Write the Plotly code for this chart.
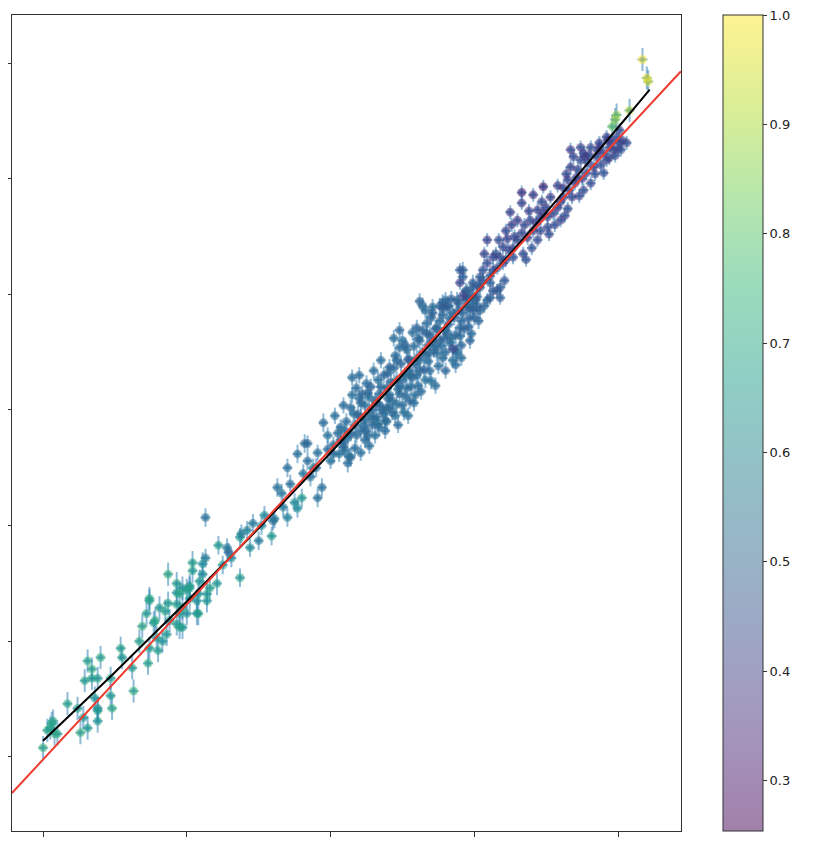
import numpy as np
import plotly.graph_objects as go
import plotly.colors as pc

# ---------------- data ----------------
# low-x group (teal/green points)
x_low = [0.00,0.03,0.06,0.08,0.07,0.17,0.24,0.26,0.28,0.31,0.31,0.34,0.29,0.38,0.36,0.38,0.38,0.40,0.48,0.47,
         0.47,0.54,0.55,0.62,0.63,0.67,0.69,0.73,0.74,0.72,0.74,0.77,0.79,0.80,0.83,0.86,0.85,0.87,0.88,0.93,
         0.95,0.93,0.97,1.00,0.87,1.02,1.07,1.08,1.02,1.09,1.11,1.04,1.11,1.14,0.93,0.97,
         1.02,1.16,0.95,1.04,
         1.21,1.08,1.14,1.00,0.93,0.95,1.07,0.97,0.81,0.78,0.74,0.34,0.38,0.05,0.10]
y_low = [0.08,0.23,0.29,0.20,0.31,0.46,0.42,0.21,0.34,0.25,0.83,0.76,0.66,0.68,0.51,0.42,0.31,0.86,0.42,0.53,
         0.68,0.94,0.86,0.77,0.57,1.00,1.13,0.81,0.94,1.24,1.37,1.16,1.03,0.92,1.00,1.06,1.26,1.33,1.18,1.15,
         1.12,1.42,1.29,1.24,1.58,1.37,1.35,1.24,1.48,1.52,1.58,1.68,1.67,1.41,1.50,1.46,
         1.46,1.46,1.41,1.61,
         1.50,1.41,1.35,1.44,1.32,1.24,1.24,1.12,1.29,1.18,1.35,0.68,0.40,0.25,0.20]
c_low = [0.76,0.74,0.72,0.76,0.72,0.74,0.70,0.76,0.68,0.70,0.74,0.76,0.72,0.70,0.68,0.64,0.68,0.74,0.76,0.70,
         0.72,0.74,0.70,0.72,0.76,0.74,0.76,0.74,0.70,0.72,0.74,0.68,0.70,0.72,0.68,0.70,0.74,0.72,0.68,0.70,
         0.72,0.68,0.70,0.66,0.76,0.70,0.66,0.72,0.66,0.70,0.64,0.74,0.66,0.70,0.72,0.66,
         0.70,0.72,0.74,0.72,
         0.70,0.66,0.70,0.70,0.72,0.70,0.66,0.68,0.70,0.74,0.70,0.70,0.68,0.70,0.72]
err_low = 0.10

# transition group
x_mid = [1.13,1.13,1.22,1.29,1.28,1.31,1.37,1.37,1.46,1.44,1.50,1.54,1.59,1.61,1.63,1.67,1.70,1.70,1.77,1.80,
         1.77,1.82,1.81,1.86,1.91,1.94,1.95,1.88,1.75,1.38,1.60,2.02,2.12,2.14,2.09,2.25,2.34,
         1.25,1.42,1.52,1.66,1.72,1.84,1.90,1.98]
y_mid = [2.07,1.72,1.83,1.77,1.81,1.72,1.90,1.55,2.02,1.81,1.87,2.09,1.91,2.06,2.33,2.16,2.07,2.50,2.15,2.24,
         2.62,2.71,2.45,2.42,2.24,2.33,2.89,2.50,2.20,1.93,2.04,2.62,2.54,2.59,2.68,2.82,2.85,
         1.66,1.96,2.00,2.28,2.36,2.56,2.50,2.66]
c_mid = [0.52,0.58,0.70,0.48,0.56,0.64,0.68,0.72,0.56,0.64,0.56,0.64,0.70,0.58,0.52,0.56,0.60,0.52,0.64,0.70,
         0.52,0.50,0.54,0.52,0.52,0.52,0.50,0.56,0.64,0.56,0.52,0.50,0.50,0.50,0.50,0.50,0.50,
         0.68,0.60,0.62,0.54,0.52,0.50,0.52,0.50]
err_mid = 0.08

# dense central group (blue points)
x_core = [1.84,1.91,2.09,2.14,2.07,2.15,2.16,2.21,2.22,2.18,2.25,2.27,2.32,2.34,2.29,2.37,2.39,
          2.39,2.41,2.46,2.48,2.50,2.53,2.55,2.60,2.62,2.46,2.48,2.53,2.57,2.62,2.64,2.64,2.67,2.71,2.71,
          2.76,2.80,2.76,2.81,2.83,2.85,2.88,2.90,2.85,2.88,2.94,2.92,2.95,2.98,2.91,2.99,
          2.14,2.21,2.32,2.41,2.55,2.74,2.78,2.60,2.69,2.78,2.66,2.71,2.81,3.02,
          2.07,2.10,2.17,2.24,2.29,2.38,2.45,2.43,2.50,2.55,2.59,2.52,2.66,2.69,2.59,2.66,2.73,2.76,2.80,2.87,
          2.91,2.96,3.01,2.83,2.74,2.68,2.61,2.54,2.47,2.38,2.31,2.24,2.17,2.10,2.00,2.21,2.27,2.34,2.41,2.48,
          2.55,2.62,2.69,2.78,2.82,2.89,2.94,2.98,3.03,2.40,2.33,2.26,2.45,2.52,2.57,2.48,2.35,2.30,2.15,2.09,
          2.03,1.98,2.21,2.27,2.73,2.80,2.87,2.91,2.97,3.03,
          2.02,2.05,2.06,2.11,2.12,2.13,2.18,2.19,2.20,2.23,2.24,2.26,2.28,2.30,2.31,2.33,2.35,2.36,2.37,2.39,
          2.40,2.42,2.43,2.44,2.46,2.47,2.49,2.50,2.51,2.52,2.54,2.56,2.58,2.58,2.60,2.61,2.63,2.64,2.65,2.67,
          2.68,2.70,2.70,2.72,2.73,2.75,2.77,2.78,2.79,2.80,2.82,2.84,2.84,2.86,2.87,2.89,2.90,2.92,2.93,2.95,
          2.96,2.97,2.99,3.00,3.02,3.04,2.62,2.44,2.20]
y_core = [2.71,2.63,2.72,2.80,2.85,3.28,2.97,3.06,3.14,3.19,3.23,3.11,3.06,3.14,3.00,2.97,3.02,
          3.19,3.37,3.43,3.54,3.60,3.52,3.43,3.45,3.34,3.26,3.14,3.19,3.28,3.60,3.90,3.69,3.75,3.60,3.84,
          3.77,3.95,3.90,3.66,3.58,3.43,3.49,3.71,3.84,3.95,4.03,4.21,3.89,3.66,3.45,3.86,
          3.02,2.94,2.94,3.02,3.34,3.49,3.45,3.71,3.49,3.93,3.86,3.89,3.89,3.89,
          2.74,2.82,2.87,2.91,2.87,2.91,2.95,3.08,3.04,3.08,3.13,3.30,3.26,3.34,3.39,3.47,3.56,3.60,3.69,3.65,
          3.77,3.79,3.95,3.79,3.71,3.56,3.21,2.95,2.87,2.82,2.78,2.74,2.67,2.65,2.56,2.82,2.95,3.04,3.13,3.21,
          3.30,3.43,3.65,3.82,3.90,3.86,3.95,3.99,4.08,3.32,3.26,3.15,3.47,3.56,3.67,3.69,3.43,3.34,3.13,3.04,
          2.95,2.78,2.63,2.69,3.21,3.34,3.39,3.56,3.60,3.77,
          2.70,2.80,2.62,2.90,2.76,2.60,2.78,2.96,3.10,2.86,3.04,2.78,3.20,2.92,3.08,2.88,3.20,3.00,3.30,2.90,
          3.10,3.24,2.98,3.36,3.05,3.18,3.40,3.26,2.98,3.12,3.44,3.20,3.55,3.06,3.30,3.62,3.16,3.50,3.35,3.66,
          3.42,3.25,3.80,3.52,3.70,3.38,3.55,3.88,3.62,3.50,3.74,3.96,3.62,3.80,3.52,3.92,3.64,3.84,3.70,3.98,
          3.72,3.88,4.10,3.80,3.98,3.86,3.94,3.62,3.30]
c_core = [0.50,0.52,0.50,0.48,0.50,0.50,0.52,0.50,0.48,0.50,0.50,0.52,0.50,0.50,0.48,0.50,0.50,
          0.50,0.48,0.50,0.50,0.52,0.50,0.48,0.50,0.50,0.52,0.50,0.50,0.48,0.50,0.50,0.48,0.50,0.50,0.48,
          0.50,0.50,0.48,0.50,0.50,0.52,0.50,0.48,0.50,0.48,0.47,0.46,0.48,0.50,0.50,0.48,
          0.50,0.52,0.50,0.50,0.48,0.50,0.50,0.48,0.50,0.48,0.50,0.50,0.48,0.47,
          0.50,0.52,0.50,0.50,0.48,0.50,0.52,0.50,0.50,0.48,0.50,0.50,0.52,0.50,0.48,0.50,0.50,0.48,0.50,0.48,
          0.48,0.47,0.47,0.50,0.50,0.48,0.50,0.52,0.50,0.50,0.52,0.50,0.50,0.52,0.53,0.50,0.50,0.48,0.50,0.50,
          0.52,0.50,0.48,0.48,0.47,0.48,0.47,0.47,0.46,0.50,0.52,0.50,0.50,0.48,0.50,0.48,0.50,0.50,0.52,0.50,
          0.52,0.53,0.52,0.50,0.50,0.48,0.50,0.48,0.48,0.47,
          0.52,0.50,0.52,0.50,0.50,0.52,0.50,0.48,0.50,0.50,0.52,0.50,0.48,0.50,0.50,0.52,0.50,0.50,0.48,0.50,
          0.50,0.48,0.50,0.50,0.52,0.50,0.48,0.50,0.52,0.50,0.48,0.50,0.50,0.52,0.50,0.48,0.50,0.50,0.48,0.48,
          0.50,0.52,0.47,0.50,0.48,0.50,0.50,0.46,0.48,0.50,0.48,0.46,0.50,0.48,0.50,0.47,0.50,0.48,0.48,0.46,
          0.48,0.47,0.45,0.48,0.46,0.47,0.48,0.50,0.50]
err_core = 0.07

# upper group (purple points)
x_high = [2.90,2.92,2.85,3.09,3.07,3.13,3.09,3.06,2.99,3.13,3.33,3.33,3.41,3.25,3.30,3.39,3.44,3.47,3.48,3.51,
          3.51,3.41,3.33,3.30,3.23,3.20,3.27,3.37,3.44,3.18,3.27,3.34,3.20,3.13,3.04,2.92,2.90,2.95,3.04,3.11,
          3.16,3.18,3.09,2.99,3.60,3.58,3.62,3.58,3.65,3.67,3.69,3.67,3.74,3.77,3.71,3.78,3.83,3.85,3.81,3.87,
          3.92,3.93,3.99,4.01,4.03,3.97,3.90,3.76,3.68,3.65,3.63,3.53,3.48,3.46,4.01,3.92,3.87,3.81,3.94,3.76,
          3.74,4.06,4.02,3.06,3.11,3.16,3.07,3.11,3.18,3.21,
          3.22,3.26,3.28,3.35,3.38,3.40,3.43,3.46,3.50,3.52,3.55,3.56,3.60,3.62,3.64,3.66,3.70,3.72,3.73,3.75,
          3.79,3.80,3.84,3.86,3.88,3.90,3.94,3.96,3.98,4.00,3.15,3.17,3.22,3.24,3.36]
y_high = [4.10,3.99,3.53,4.47,4.35,4.32,4.27,4.21,4.06,4.03,4.88,4.79,4.86,4.71,4.64,4.64,4.73,4.80,4.70,4.67,
          4.58,4.55,4.53,4.47,4.48,4.41,4.40,4.49,4.47,4.32,4.32,4.35,4.27,4.21,4.15,4.15,4.21,4.03,4.06,4.10,
          4.03,3.97,3.95,3.92,4.64,4.75,4.84,4.94,4.99,5.10,5.19,5.25,5.27,5.19,5.01,5.05,5.10,5.19,4.96,5.27,
          5.16,5.33,5.36,5.31,5.33,5.25,5.05,4.90,4.84,4.74,4.68,4.84,4.93,4.55,5.42,5.36,5.31,5.27,5.27,5.22,
          5.16,5.31,5.25,4.12,4.16,4.23,3.90,3.97,4.06,4.12,
          4.55,4.60,4.50,4.60,4.72,4.40,4.62,4.66,4.75,4.52,4.70,4.60,4.80,4.92,5.04,4.90,4.96,5.08,4.85,5.00,
          5.14,5.20,5.04,5.24,5.12,5.22,5.18,5.32,5.20,5.26,4.35,4.47,4.30,4.38,4.30]
c_high = [0.36,0.36,0.38,0.34,0.36,0.36,0.38,0.40,0.46,0.42,0.28,0.34,0.32,0.34,0.34,0.36,0.34,0.36,0.36,0.36,
          0.38,0.38,0.36,0.38,0.34,0.36,0.38,0.36,0.38,0.38,0.40,0.38,0.40,0.40,0.42,0.45,0.45,0.48,0.45,0.44,
          0.45,0.45,0.48,0.50,0.36,0.34,0.36,0.34,0.36,0.34,0.36,0.34,0.36,0.38,0.36,0.38,0.36,0.38,0.38,0.36,
          0.38,0.36,0.38,0.40,0.38,0.38,0.40,0.38,0.36,0.38,0.38,0.34,0.26,0.38,0.38,0.36,0.36,0.38,0.38,0.36,
          0.38,0.38,0.40,0.45,0.44,0.42,0.48,0.46,0.44,0.42,
          0.36,0.34,0.38,0.36,0.34,0.40,0.36,0.36,0.34,0.38,0.36,0.38,0.36,0.34,0.36,0.38,0.36,0.36,0.38,0.36,
          0.38,0.36,0.38,0.36,0.38,0.36,0.38,0.36,0.38,0.40,0.40,0.38,0.42,0.38,0.40]
err_high = 0.06

# top-end group (yellow points)
x_top = [4.17,4.20,4.21,4.08,3.98,3.99,3.96]
y_top = [6.03,5.87,5.84,5.59,5.51,5.55,5.45]
c_top = [1.00,1.00,0.98,0.92,0.90,0.88,0.84]
err_top = 0.10

x_err = 0.035

# fitted relations
red_slope, red_intercept = 1.341, -0.022
fit_c0, fit_c1, fit_c2 = 0.14, 1.1646, 0.0402
fit_x_start, fit_x_end = 0.0, 4.22

# axes / colour scale settings
x_range = [-0.216, 4.438]
y_range = [-0.64, 6.415]
x_ticks = [0, 1, 2, 3, 4]
y_ticks = [0, 1, 2, 3, 4, 5, 6]
c_min, c_max = 0.254, 1.0
cbar_ticks = [0.3, 0.4, 0.5, 0.6, 0.7, 0.8, 0.9, 1.0]

# ---------------- build ----------------
xs = x_low + x_mid + x_core + x_high + x_top
ys = y_low + y_mid + y_core + y_high + y_top
cs = c_low + c_mid + c_core + c_high + c_top
ey = ([err_low] * len(x_low) + [err_mid] * len(x_mid) + [err_core] * len(x_core)
      + [err_high] * len(x_high) + [err_top] * len(x_top))
ex = [x_err] * len(xs)


def hex_to_rgba(h, a):
    h = h.lstrip('#')
    return 'rgba(%d,%d,%d,%.2f)' % (int(h[0:2], 16), int(h[2:4], 16), int(h[4:6], 16), a)


vir = pc.sequential.Viridis
cscale = [[i / (len(vir) - 1), hex_to_rgba(c, 0.5)] for i, c in enumerate(vir)]

c0 = 'rgba(31,119,180,0.5)'
fig = go.Figure()
fig.add_trace(go.Scatter(
    x=xs, y=ys, mode='markers',
    marker=dict(size=6, color=c0, line=dict(width=0)),
    error_y=dict(type='data', array=ey, color=c0, thickness=2, width=0),
    error_x=dict(type='data', array=ex, color=c0, thickness=2, width=0),
    showlegend=False, hoverinfo='skip'))
fig.add_trace(go.Scatter(
    x=xs, y=ys, mode='markers',
    marker=dict(size=9, color=cs, colorscale=cscale, cmin=c_min, cmax=c_max,
                line=dict(width=0),
                colorbar=dict(x=(723 - 12) / 669, xanchor='left', y=0.5, yanchor='middle',
                              len=1, lenmode='fraction', thickness=40, thicknessmode='pixels',
                              xpad=0, ypad=0, outlinewidth=1, outlinecolor='#333',
                              tickvals=cbar_ticks, ticktext=['%.1f' % v for v in cbar_ticks],
                              ticks='outside', ticklen=4, tickcolor='#333',
                              ticklabeloverflow='allow',
                              tickfont=dict(family='DejaVu Sans', size=13, color='#222'))),
    showlegend=False))

xf = np.linspace(fit_x_start, fit_x_end, 120)
yf = fit_c0 + fit_c1 * xf + fit_c2 * xf ** 2
fig.add_trace(go.Scatter(x=xf, y=yf, mode='lines', line=dict(color='black', width=2),
                         showlegend=False, hoverinfo='skip'))

xr = np.array(x_range)
yr = red_intercept + red_slope * xr
fig.add_trace(go.Scatter(x=xr, y=yr, mode='lines', line=dict(color='#ee3b2f', width=2),
                         showlegend=False, hoverinfo='skip'))

axis_common = dict(showticklabels=False, ticks='outside', ticklen=5, tickcolor='#333',
                   showline=True, linecolor='#333', linewidth=1, mirror=True,
                   showgrid=False, zeroline=False, automargin=False)
fig.update_xaxes(range=x_range, tickvals=x_ticks, **axis_common)
fig.update_yaxes(range=y_range, tickvals=y_ticks, **axis_common)
# the page body adds an 8 px offset, so margins are reduced accordingly
fig.update_layout(width=826, height=842, margin=dict(l=4, r=153, t=7, b=19, autoexpand=False),
                  plot_bgcolor='white', paper_bgcolor='white', showlegend=False,
                  font=dict(family='DejaVu Sans'))
fig.write_html("out.html")
